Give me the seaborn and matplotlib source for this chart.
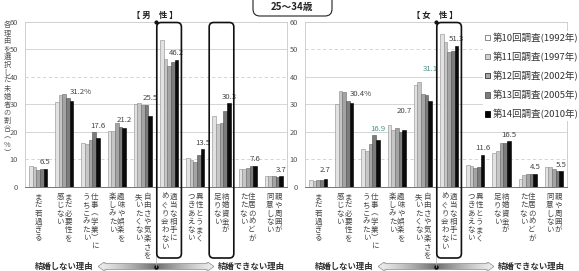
import matplotlib
matplotlib.use("Agg")
import matplotlib.pyplot as plt
import matplotlib.transforms as mtransforms
from matplotlib.patches import FancyBboxPatch, Polygon, Patch
from matplotlib.lines import Line2D
import seaborn as sns
import pandas as pd
import numpy as np

# ---------------- data ----------------
reason_columns = [
    ["まだ若過ぎる"],
    ["まだ必要性を", "感じない"],
    ["仕事︵学業︶に", "うちこみたい"],
    ["趣味や娯楽を", "楽しみたい"],
    ["自由さや気楽さを", "失いたくない"],
    ["適当な相手に", "めぐり会わない"],
    ["異性とうまく", "つきあえない"],
    ["結婚資金が", "足りない"],
    ["住居のめどが", "たたない"],
    ["親や周囲が", "同意しない"],
]
reasons = ["".join(c) for c in reason_columns]
surveys = ["第10回調査(1992年)", "第11回調査(1997年)", "第12回調査(2002年)",
           "第13回調査(2005年)", "第14回調査(2010年)"]

male_1992 = [7.6, 30.6, 15.9, 20.2, 30.0, 53.3, 10.5, 25.6, 6.4, 3.8]
male_1997 = [7.2, 33.3, 15.6, 20.2, 30.3, 46.3, 9.5, 22.6, 6.2, 3.8]
male_2002 = [5.9, 33.5, 16.8, 23.3, 29.6, 44.0, 9.0, 23.3, 6.8, 4.0]
male_2005 = [6.2, 32.2, 19.8, 21.8, 29.8, 45.2, 11.5, 27.5, 7.4, 3.3]
male_2010 = [6.5, 31.2, 17.6, 21.2, 25.5, 46.2, 13.5, 30.3, 7.6, 3.7]

female_1992 = [2.2, 30.2, 13.5, 22.3, 36.8, 55.5, 7.7, 12.3, 2.8, 7.1]
female_1997 = [2.0, 34.8, 12.9, 20.6, 38.2, 52.6, 7.6, 13.0, 4.3, 7.1]
female_2002 = [2.3, 34.4, 15.3, 21.4, 33.6, 48.9, 6.6, 15.8, 4.6, 6.5]
female_2005 = [2.4, 31.3, 18.6, 19.8, 33.3, 49.5, 7.1, 15.8, 4.7, 5.5]
female_2010 = [2.7, 30.4, 16.9, 20.7, 31.1, 51.3, 11.6, 16.5, 4.5, 5.5]

yticks = [0, 10, 20, 30, 40, 50, 60]
title_text = "25～34歳"
panel_titles = ["【 男　性 】", "【 女　性 】"]
ylabel_text = "各理由を選択した未婚者の割合︵%︶"
arrow_left_text = "結婚しない理由"
arrow_right_text = "結婚できない理由"

# ---------------- style ----------------
sns.set_theme(style="white")
plt.rcParams["font.family"] = ["Noto Sans CJK JP", "DejaVu Sans"]

W, H = 579, 271
fig = plt.figure(figsize=(W / 100, H / 100), dpi=100)

bar_colors = ["#e2e2e2", "#c6c6c6", "#a4a4a4", "#7c7c7c", "#0a0a0a"]
edge_colors = ["#8c8c8c", "#8c8c8c", "#6a6a6a", "#505050", "#000000"]
legend_face = ["#ffffff", "#d2d2d2", "#a8a8a8", "#7c7c7c", "#000000"]
legend_edge = ["#777777", "#777777", "#333333", "#555555", "#000000"]
text_col = "#444444"


def fx(px):
    return px / W


def fy(py):
    return 1 - py / H


def long_df(series):
    rows = []
    for s, vals in zip(surveys, series):
        for r, v in zip(reasons, vals):
            rows.append({"reason": r, "survey": s, "pct": v})
    return pd.DataFrame(rows)


df_m = long_df([male_1992, male_1997, male_2002, male_2005, male_2010])
df_f = long_df([female_1992, female_1997, female_2002, female_2005, female_2010])

ax_top_px, ax_bot_px = 21.7, 186.5
ax_m = fig.add_axes([fx(25), fy(ax_bot_px), fx(262), (ax_bot_px - ax_top_px) / H])
ax_f = fig.add_axes([fx(305), fy(ax_bot_px), fx(262), (ax_bot_px - ax_top_px) / H])

dashed_levels = {0: [10, 40], 1: [10, 50]}

for k, (ax, df) in enumerate([(ax_m, df_m), (ax_f, df_f)]):
    sns.barplot(data=df, x="reason", y="pct", hue="survey", order=reasons,
                hue_order=surveys, palette=bar_colors, saturation=1, width=0.7,
                linewidth=0.4, edgecolor="#666666", legend=False, ax=ax, zorder=3)
    for s_i, cont in enumerate(ax.containers):
        for p in cont:
            p.set_edgecolor(edge_colors[s_i])
    ax.set_xlim(-0.5, len(reasons) - 0.5)
    ax.set_ylim(0, 60)
    ax.set_yticks(yticks)
    ax.set_xlabel("")
    ax.set_ylabel("")
    ax.tick_params(axis="x", length=0, labelbottom=False)
    ax.tick_params(axis="y", length=0, labelsize=5.4, colors="#555555", pad=5)
    for lv in yticks[1:-1]:
        ax.axhline(lv, color="#cfcfcf", lw=0.6,
                   ls=(0, (4, 3)) if lv in dashed_levels[k] else "-", zorder=0)
    for side in ["left", "right", "top"]:
        ax.spines[side].set_color("#c8c8c8")
        ax.spines[side].set_linewidth(0.6)
    ax.spines["bottom"].set_color("#777777")
    ax.spines["bottom"].set_linewidth(0.7)

    # vertical category labels, character by character
    blend = mtransforms.blended_transform_factory(ax.transData, ax.transAxes)
    pitch = 8.3 / 100  # inches
    for i, cols in enumerate(reason_columns):
        if len(cols) == 1:
            offs = [0.0]
        else:
            offs = [0.16, -0.16]
        for col, off in zip(cols, offs):
            for j, ch in enumerate(col):
                tr = blend + mtransforms.ScaledTranslation(0, -(10.5 / 100) - j * pitch,
                                                           fig.dpi_scale_trans)
                ax.text(i + off, 0, ch, transform=tr, ha="center", va="center",
                        fontsize=5.4, color=text_col)

# value labels above the 2010 bars
label_extra = {0: {}, 1: {3: 9, 4: 14, 0: 2}}
label_color = {0: {}, 1: {2: "#4a958a", 4: "#4a958a"}}
for k, (ax, s4, s5) in enumerate([(ax_m, male_2005, male_2010), (ax_f, female_2005, female_2010)]):
    last = ax.containers[4]
    for i, p in enumerate(last):
        v = s5[i]
        txt = f"{v:.1f}" + ("%" if i == 1 else "")
        top = max(s4[i], s5[i])
        extra = label_extra[k].get(i, 0)
        if i == 1:
            xx, ha = p.get_x() - 0.02, "left"
        else:
            xx, ha = p.get_x() + p.get_width() / 2, "center"
        ax.annotate(txt, (xx, top), xytext=(0, 1.6 + extra), textcoords="offset points",
                    ha=ha, va="bottom", fontsize=5.6,
                    color=label_color[k].get(i, text_col), zorder=5,
                    annotation_clip=False)

# rounded highlight boxes
def pxbox(ax, idx):
    x0 = ax.transData.transform((idx - 0.47, 0))[0]
    x1 = ax.transData.transform((idx + 0.47, 0))[0]
    y_top = H - 22.5
    y_bot = H - 258
    box = FancyBboxPatch((x0 / 100, y_bot / 100), (x1 - x0) / 100, (y_top - y_bot) / 100,
                         boxstyle="round,pad=0,rounding_size=0.045",
                         transform=fig.dpi_scale_trans, fill=False,
                         edgecolor="#111111", lw=1.2, zorder=10)
    fig.patches.append(box)


for ax, idxs in [(ax_m, [5, 7]), (ax_f, [5])]:
    for idx in idxs:
        pxbox(ax, idx)

# divider line + arrows
def draw_arrow(ax):
    xc = ax.transData.transform((4.5, 0))[0]
    half = 58
    x0, x1 = xc - half, xc + half
    yc = 266.5
    hh = 10
    aax = fig.add_axes([fx(x0), fy(yc + hh / 2), fx(x1 - x0), hh / H])
    aax.set_xlim(0, 1)
    aax.set_ylim(0, 1)
    aax.axis("off")
    hl = 7 / (x1 - x0)
    pts = [(0, 0.5), (hl, 1.0), (hl, 0.8), (1 - hl, 0.8), (1 - hl, 1.0), (1, 0.5),
           (1 - hl, 0.0), (1 - hl, 0.2), (hl, 0.2), (hl, 0.0)]
    poly = Polygon(pts, closed=True, facecolor="none", edgecolor="#999999", lw=0.6,
                   transform=aax.transData)
    xs = np.linspace(0, 1, 200)
    g = 0.93 - 0.5 * (1 - np.abs(2 * xs - 1)) ** 1.3
    img = np.tile(g, (10, 1))
    im = aax.imshow(img, cmap="gray", vmin=0, vmax=1, extent=(0, 1, 0, 1),
                    aspect="auto", interpolation="bilinear")
    im.set_clip_path(poly)
    aax.add_patch(poly)
    aax.plot([0.5], [0.5], "o", color="#111111", ms=2.2)
    # divider line from top of plot to arrow
    fig.add_artist(Line2D([fx(xc), fx(xc)], [fy(ax_top_px), fy(yc)],
                          color="#b0b0b0", lw=0.5, zorder=1))
    fig.add_artist(Line2D([fx(xc)], [fy(ax_top_px)], marker="o", ms=2,
                          color="#111111", lw=0))
    fig.text(fx(x0 - 4), fy(yc), arrow_left_text, ha="right", va="center",
             fontsize=6, color="#333333", fontweight="bold")
    fig.text(fx(x1 + 4), fy(yc), arrow_right_text, ha="left", va="center",
             fontsize=6, color="#333333", fontweight="bold")


draw_arrow(ax_m)
draw_arrow(ax_f)

# y-axis label (vertical)
for j, ch in enumerate(ylabel_text):
    fig.text(fx(7), fy(25 + j * 8.0), ch, ha="center", va="center", fontsize=5.2,
             color="#555555")

# panel titles
fig.text(fx(155), fy(15), panel_titles[0], ha="center", va="center", fontsize=6,
         fontweight="bold", color="#222222")
fig.text(fx(435), fy(15), panel_titles[1], ha="center", va="center", fontsize=6,
         fontweight="bold", color="#222222")

# title box
tb = FancyBboxPatch((253 / 100, (H - 16) / 100), 79 / 100, 22 / 100,
                    boxstyle="round,pad=0,rounding_size=0.07",
                    transform=fig.dpi_scale_trans, fill=True, facecolor="white",
                    edgecolor="#222222", lw=0.8, zorder=10)
fig.patches.append(tb)
fig.text(fx(292), fy(7), title_text, ha="center", va="center", fontsize=7,
         fontweight="bold", color="#222222", zorder=11)

# legend
handles = [Patch(facecolor=legend_face[i], edgecolor=legend_edge[i], lw=0.6)
           for i in range(len(surveys))]
leg = fig.legend(handles, surveys, loc="upper left", bbox_to_anchor=(fx(478), fy(26)),
                 fontsize=6.8, frameon=True, facecolor="white", edgecolor="none",
                 framealpha=1, handlelength=0.55, handleheight=0.55,
                 handletextpad=0.3, labelspacing=0.95, borderpad=0.2)
for t in leg.get_texts():
    t.set_color("#333333")

fig.savefig("out.png", dpi=100)
